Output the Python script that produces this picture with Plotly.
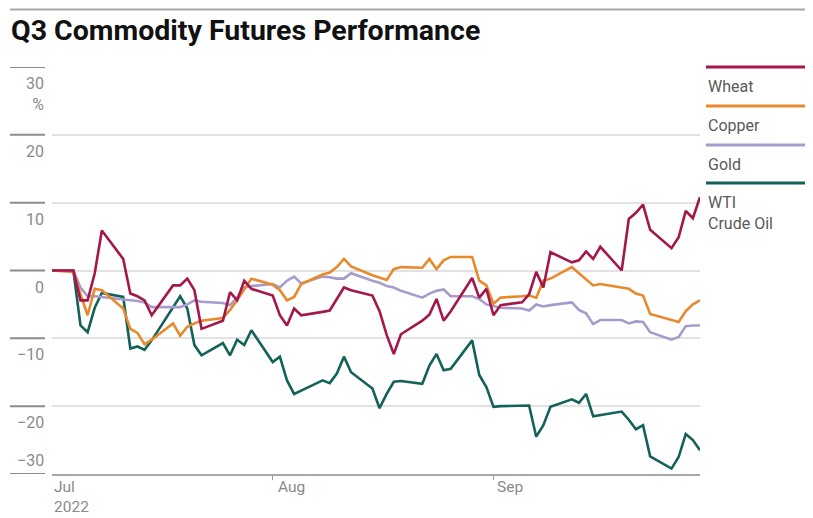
import plotly.graph_objects as go

# trading days (Jul 4 / Sep 5 carried flat)
dates = (
    ["2022-07-%02d" % d for d in [1, 4, 5, 6, 7, 8, 11, 12, 13, 14, 15, 18, 19, 20, 21, 22, 25, 26, 27, 28, 29]]
    + ["2022-08-%02d" % d for d in [1, 2, 3, 4, 5, 8, 9, 10, 11, 12, 15, 16, 17, 18, 19, 22, 23, 24, 25, 26, 29, 30, 31]]
    + ["2022-09-%02d" % d for d in [1, 2, 5, 6, 7, 8, 9, 12, 13, 14, 15, 16, 19, 20, 21, 22, 23, 26, 27, 28, 29, 30]]
)

wheat = [0, 0, -4.4, -4.4, -0.4, 5.9, 1.7, -3.4, -3.8, -4.4, -6.6, -2.2, -2.2, -1.2, -2.9, -8.6, -7.4, -3.2, -4.4, -1.5, -2.7,
         -3.7, -6.6, -8.1, -5.6, -6.6, -6.1, -5.9, -4.2, -2.5, -2.9, -3.7, -6.0, -9.5, -12.3, -9.4, -7.4, -6.5, -4.2, -7.4, -6.0, -1.1, -4.0, -2.7,
         -6.6, -5.1, -4.7, -3.5, -0.2, -2.5, 2.7, 1.2, 1.5, 2.8, 1.7, 3.5, 0.0, 7.6, 8.5, 9.7, 6.0, 3.3, 4.9, 8.8, 7.7, 10.8]
copper = [0, -0.2, -3.5, -6.6, -2.7, -2.9, -5.6, -8.6, -9.2, -10.9, -10.2, -7.8, -9.6, -8.3, -7.8, -7.4, -7.0, -5.8, -4.4, -2.8, -1.2,
          -2.1, -2.9, -4.4, -3.9, -2.0, -0.6, -0.3, 0.5, 1.7, 0.6, -0.7, -1.0, -1.4, 0.2, 0.5, 0.4, 1.7, 0.2, 1.5, 2.0, 2.0, -1.5, -2.2,
          -4.9, -4.0, -3.8, -3.7, -4.0, -1.5, -1.2, 0.5, -0.4, -1.3, -2.2, -2.0, -2.5, -2.7, -3.4, -3.7, -6.4, -7.3, -7.6, -6.0, -5.0, -4.4]
gold = [0, 0, -2.5, -3.8, -3.8, -3.9, -4.3, -4.4, -4.5, -4.7, -5.4, -5.4, -5.4, -5.0, -4.4, -4.6, -4.8, -5.1, -4.0, -2.5, -2.3,
        -2.0, -2.5, -1.5, -0.9, -1.9, -0.9, -1.0, -1.2, -1.2, -0.4, -1.5, -1.8, -2.3, -2.5, -3.0, -4.0, -3.4, -3.0, -2.8, -3.8, -3.8, -4.2, -5.0,
        -5.3, -5.5, -5.6, -5.9, -5.0, -5.3, -5.1, -4.7, -5.8, -6.3, -7.9, -7.3, -7.3, -7.8, -7.5, -7.6, -9.1, -10.2, -9.8, -8.2, -8.1, -8.1]
wti = [0, 0, -8.1, -9.1, -5.5, -3.3, -3.9, -11.5, -11.2, -11.7, -10.3, -5.4, -3.8, -5.6, -11.0, -12.5, -10.7, -12.5, -10.2, -11.0, -8.8,
       -13.5, -12.7, -16.2, -18.2, -17.7, -16.2, -16.6, -15.2, -12.7, -15.0, -17.4, -20.3, -18.2, -16.4, -16.3, -16.7, -14.0, -12.3, -14.7, -14.5, -10.3, -15.4, -17.2,
       -20.1, -20.0, -20.0, -19.9, -24.5, -22.8, -20.1, -19.0, -19.5, -18.2, -21.5, -21.3, -20.8, -22.0, -23.4, -22.8, -27.4, -29.2, -27.5, -24.1, -25.0, -26.5]

names = ["Wheat", "Copper", "Gold", "WTI<br>Crude Oil"]
colors = ["#A3174B", "#E8892C", "#A79BCB", "#13625A"]
y_ticks = [30, 20, 10, 0, -10, -20, -30]

FONT = "Roboto, Liberation Sans, sans-serif"
OFF = 8  # page body margin; figure sits 8px in from the window corner
W, H = 813 - OFF, 518 - OFF
L, R, T, B = 52, 700, 67, 474  # plot area in window pixels


def px_x(x):
    return (x - L) / (R - L)


def px_y(y):
    return (B - y) / (B - T)


fig = go.Figure()
# draw wti first so wheat sits on top
for vals, name, col in list(zip([wheat, copper, gold, wti], names, colors))[::-1]:
    fig.add_trace(go.Scatter(x=dates, y=vals, mode="lines", name=name,
                             line=dict(color=col, width=2.6), showlegend=False))

shapes = []
annotations = []

# short dark ticks left of the axis labels
for v in y_ticks:
    shapes.append(dict(type="line", xref="paper", yref="y", x0=px_x(10), x1=px_x(45), y0=v, y1=v,
                       line=dict(color="#8c8c8c", width=2)))
    txt = "30<br>%" if v == 30 else ("\u221230" if v == -30 else str(v).replace("-", "\u2212"))
    annotations.append(dict(xref="paper", yref="y", x=px_x(46), y=v, text=txt, showarrow=False,
                            xanchor="right", yanchor="bottom" if v == -30 else "top",
                            yshift=2 if v == -30 else -5, align="right",
                            font=dict(family=FONT, size=16, color="#8a8a8a")))

# top rule
shapes.append(dict(type="line", xref="paper", yref="paper", x0=px_x(10), x1=px_x(813), y0=px_y(9.5), y1=px_y(9.5),
                   line=dict(color="#a8a8a8", width=2)))

# legend on the right
leg_y = [67, 106, 145, 183]
for name, col, ly in zip(names, colors, leg_y):
    shapes.append(dict(type="line", xref="paper", yref="paper", x0=px_x(706), x1=px_x(813), y0=px_y(ly), y1=px_y(ly),
                       line=dict(color=col, width=3)))
    annotations.append(dict(xref="paper", yref="paper", x=px_x(706), y=px_y(ly + 8), text=name, showarrow=False,
                            xanchor="left", yanchor="top", align="left",
                            font=dict(family=FONT, size=16, color="#5a5a5a")))

# month labels, left aligned at the month start
for d, lab, sh in [("2022-07-01", "Jul<br>2022", 0), ("2022-08-01", "Aug", 3), ("2022-09-01", "Sep", 2)]:
    annotations.append(dict(xref="x", yref="paper", x=d, y=0, yshift=-2, xshift=sh, text=lab, showarrow=False,
                            xanchor="left", yanchor="top", align="left",
                            font=dict(family=FONT, size=15.5, color="#8a8a8a")))

annotations.append(dict(xref="paper", yref="paper", x=px_x(9), y=px_y(31), text="<b>Q3 Commodity Futures Performance</b>",
                        showarrow=False, xanchor="left", yanchor="middle",
                        font=dict(family=FONT, size=28.5, color="#111111")))

fig.update_layout(
    width=W, height=H,
    margin=dict(l=L - OFF, r=813 - R, t=T - OFF, b=518 - B),
    plot_bgcolor="white", paper_bgcolor="white",
    shapes=shapes, annotations=annotations,
    xaxis=dict(type="date", range=["2022-07-01", "2022-09-30"], showgrid=False, showticklabels=False,
               tickvals=["2022-08-01", "2022-09-01"], ticks="outside", ticklen=4, tickcolor="#999",
               showline=True, linecolor="#a8a8a8", linewidth=2, zeroline=False),
    yaxis=dict(range=[-30, 30], tickvals=y_ticks, showticklabels=False, showgrid=True,
               gridcolor="#e2e2e2", gridwidth=1.5, zeroline=False, showline=False),
)

fig.write_html("out.html")
